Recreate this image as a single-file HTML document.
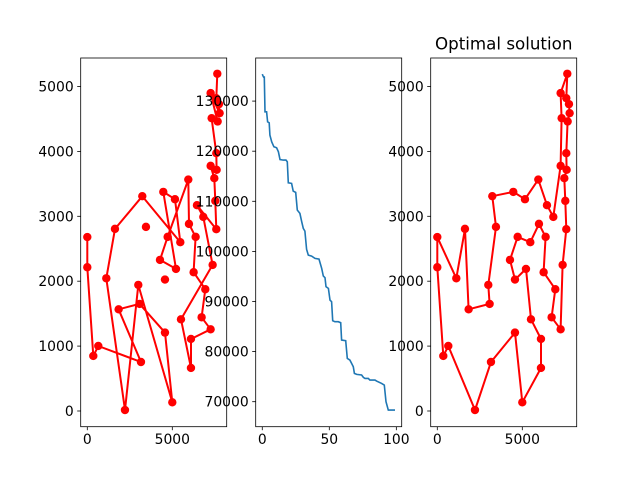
<!DOCTYPE html>
<html><head><meta charset="utf-8"><style>
html,body{margin:0;padding:0;background:#fff;}
svg{display:block;font-family:"DejaVu Sans","Liberation Sans",sans-serif;}
</style></head><body>
<svg id="fig" width="640" height="480" viewBox="0 0 640 480">
<rect width="640" height="480" fill="#fff"/>
</svg>
<script>
// City coordinates (x, y)
const cityX = [0,0,353,647,2216,3157,4569,5000,6098,6098,5510,5216,4569,4275,4726,5471,5980,6373,6255,6941,6725,7255,7373,7588,7529,7471,7608,7588,7667,7784,7745,7588,7647,7255,7314,7255,6824,6451,5941,5157,4471,3235,3451,3000,3078,1843,1627,1118];
const cityY = [2680,2215,848,1002,15,755,1208,134,663,1110,1413,2189,2025,2328,2683,2601,2883,2683,2138,1876,1444,1259,2251,2801,3238,3587,3716,3972,4461,4589,4728,4820,5196,4898,4512,3777,2991,3171,3566,3263,3376,3310,2837,1943,1650,1567,2806,2045];
// Initial (random) tour order
const initialOrder = [0,1,2,3,5,45,44,6,7,43,4,47,46,41,15,39,40,11,13,14,38,16,17,18,19,20,21,9,8,10,22,36,37,23,24,25,35,26,27,34,28,33,29,30,31,32];
// Optimal tour order
const optimalOrder = [0,1,2,3,4,5,6,7,8,9,10,11,12,13,14,15,16,17,18,19,20,21,22,23,24,25,26,27,28,29,30,31,32,33,34,35,36,37,38,39,40,41,42,43,44,45,46,47,0];
// Convergence curve
const iterations = [0,0.5,1,1.5,2,3.2,4,5.2,5.7,7,8.7,10.7,12,13.2,15.7,17.7,18.7,19.4,21.9,23.1,24.9,26.1,28.1,29.4,30.6,31.8,33.1,34.3,36.8,39.3,42.3,44.3,45.5,46.8,47.5,49.3,50.5,51.7,52.5,54.2,56.7,58.5,59.2,62.2,63.4,65.4,66.6,67.9,68.7,70.4,74.1,75.4,76.6,79.1,80.3,84.1,85.3,89,91,92.3,94,99];
const distances = [135390,135060,134790,134790,127870,127870,125870,125670,123210,121880,120880,120680,119880,118350,118220,118220,117890,113700,113570,112040,111770,108250,107580,105920,104590,104060,100400,99270,99070,98610,98470,96610,95080,94740,92950,92610,90280,89950,86160,85960,85960,85760,82300,82170,78640,78310,77640,76980,75650,75450,75320,74850,74650,74650,74320,74320,74120,73650,73320,70000,68330,68330];
const cityTicks = [0,5000];
const cityYTicks = [0,1000,2000,3000,4000,5000];
const iterTicks = [0,50,100];
const distTicks = [70000,80000,90000,100000,110000,120000,130000];

const NS = "http://www.w3.org/2000/svg";
const svg = document.getElementById('fig');
function mk(tag, attrs, parent){
  const e = document.createElementNS(NS, tag);
  for (const k in attrs) e.setAttribute(k, attrs[k]);
  (parent||svg).appendChild(e);
  return e;
}
function panel(name, L, R, T, B, xmin, xmax, ymin, ymax){
  const g = mk('g', {});
  
  
  return {g, L, R, T, B,
    sx: v => L + (v - xmin) / (xmax - xmin) * (R - L),
    sy: v => B - (v - ymin) / (ymax - ymin) * (B - T)};
}
function frame(p){
  const r = mk('rect', {x:p.L, y:p.T, width:p.R-p.L, height:p.B-p.T, fill:'none', stroke:'#000', 'stroke-width':0.8}, p.g);
  
  
}
function ticks(p, xt, yt){
  xt.forEach(v => {
    const x = p.sx(v);
    mk('line', {x1:x, x2:x, y1:p.B, y2:p.B+3.5, stroke:'#000', 'stroke-width':0.8}, p.g);
    const t = mk('text', {x:x, y:p.B+17.5, 'font-size':13.9, 'text-anchor':'middle', fill:'#000'}, p.g);
    
    
    t.textContent = v;
  });
  yt.forEach(v => {
    const y = p.sy(v);
    mk('line', {x1:p.L-3.5, x2:p.L, y1:y, y2:y, stroke:'#000', 'stroke-width':0.8}, p.g);
    const t = mk('text', {x:p.L-7, y:y+5, 'font-size':13.9, 'text-anchor':'end', fill:'#000'}, p.g);
    
    
    t.textContent = v;
  });
}
function tour(p, order, label){
  const pts = order.map(i => p.sx(cityX[i]).toFixed(1) + ',' + p.sy(cityY[i]).toFixed(1)).join(' ');
  const pl = mk('polyline', {points:pts, fill:'none', stroke:'#ff0000', 'stroke-width':2, 'stroke-linejoin':'round'}, p.g);
  
  
  for (let i = 0; i < cityX.length; i++){
    const c = mk('circle', {cx:p.sx(cityX[i]), cy:p.sy(cityY[i]), r:4.2, fill:'#ff0000'}, p.g);
    
    
  }
}
const p1 = panel('initial-route-panel', 80.7, 226.7, 58, 426.7, -388, 8200, -242, 5439);
tour(p1, initialOrder, 'initial');
frame(p1);
const p2 = panel('convergence-panel', 255.7, 401.7, 58, 426.7, -4.9, 104, 65010, 138600);
const cpts = iterations.map((v,i) => p2.sx(v).toFixed(1) + ',' + p2.sy(distances[i]).toFixed(1)).join(' ');
const cl = mk('polyline', {points:cpts, fill:'none', stroke:'#1f77b4', 'stroke-width':1.6}, p2.g);


frame(p2);
const p3 = panel('optimal-route-panel', 430.7, 576.7, 58, 426.7, -388, 8200, -242, 5439);
tour(p3, optimalOrder, 'optimal');
frame(p3);
ticks(p1, cityTicks, cityYTicks);
ticks(p2, iterTicks, distTicks);
ticks(p3, cityTicks, cityYTicks);
const title = mk('text', {x:503.7, y:49.5, 'font-size':16.7, 'text-anchor':'middle', fill:'#000'});


title.textContent = 'Optimal solution';
</script>
</body></html>
